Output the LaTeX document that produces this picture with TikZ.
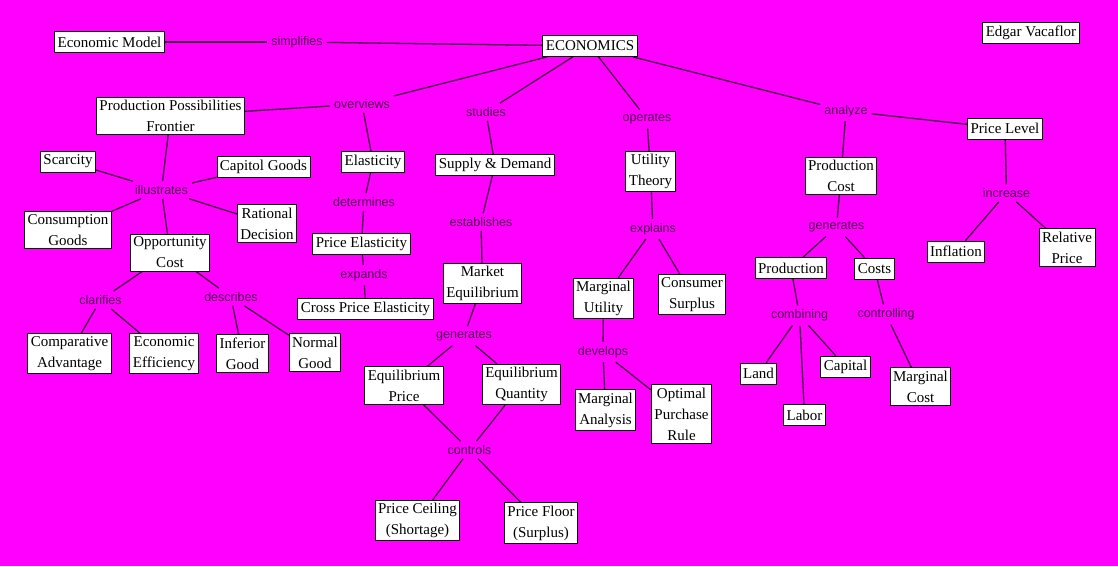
\documentclass[tikz,border=0pt]{standalone}
\usepackage{fontspec}
\setmainfont{Liberation Serif}
\newfontfamily\labfont{Liberation Sans}
\definecolor{bg}{RGB}{255,0,255}
\definecolor{edgecol}{RGB}{70,0,70}
\definecolor{labcol}{RGB}{80,0,80}
\tikzset{
 box/.style={draw=black, fill=white, line width=0.9pt, font=\fontsize{15}{21}\selectfont, align=center, inner xsep=3pt, inner ysep=3pt, minimum height=21pt},
 lab/.style={font=\labfont\fontsize{12.5}{14}\selectfont, text=labcol, inner sep=4pt},
 conn/.style={draw=edgecol, line width=1.3pt}
}
\begin{document}
\begin{tikzpicture}[x=1pt,y=-1pt]
\fill[bg] (0,0) rectangle (1118,566);
\useasboundingbox (0,0) rectangle (1118,566);
\node[box] (econ) at (590,46) {ECONOMICS};
\node[box] (model) at (109.5,42) {Economic Model};
\node[lab] (simp) at (297,42) {simplifies};
\node[box] (edgar) at (1031,33) {Edgar Vacaflor};
\node[box] (ppf) at (170.5,116) {Production Possibilities\\Frontier};
\node[lab] (over) at (362,104) {overviews};
\node[box] (elas) at (373,162) {Elasticity};
\node[lab] (stud) at (486,112) {studies};
\node[box] (sd) at (495,165) {Supply \& Demand};
\node[lab] (oper) at (647,119) {operates};
\node[box] (util) at (650.5,171.5) {Utility\\Theory};
\node[lab] (anal) at (846,111) {analyze};
\node[box] (plevel) at (1005,128.5) {Price Level};
\node[box] (pcost) at (841,176) {Production\\Cost};
\node[lab] (incr) at (1006.5,193) {increase};
\node[box] (scar) at (68,161.5) {Scarcity};
\node[box] (capg) at (263.5,166.5) {Capitol Goods};
\node[lab] (illu) at (161.5,190) {illustrates};
\node[box] (cons) at (68,230) {Consumption\\Goods};
\node[box] (opp) at (170,252.5) {Opportunity\\Cost};
\node[box] (rat) at (267,223.5) {Rational\\Decision};
\node[lab] (clar) at (100.5,300) {clarifies};
\node[lab] (desc) at (231,297) {describes};
\node[box] (comp) at (69.5,353.5) {Comparative\\Advantage};
\node[box] (eff) at (164,353.5) {Economic\\Efficiency};
\node[box] (inf) at (242.5,353.5) {Inferior\\Good};
\node[box] (norm) at (315,352.5) {Normal\\Good};
\node[lab] (det) at (364,202) {determines};
\node[box] (pel) at (361.5,243.5) {Price Elasticity};
\node[lab] (expa) at (364,275) {expands};
\node[box] (cpe) at (365.5,308.5) {Cross Price Elasticity};
\node[lab] (est) at (481,222) {establishes};
\node[box] (meq) at (482.5,283.5) {Market\\Equilibrium};
\node[lab] (gen1) at (464,336) {generates};
\node[lab] (expl) at (653,229) {explains};
\node[box] (mu) at (603.5,298.5) {Marginal\\Utility};
\node[box] (csur) at (692,294.5) {Consumer\\Surplus};
\node[lab] (dev) at (603,352) {develops};
\node[box] (ep) at (404,385.5) {Equilibrium\\Price};
\node[box] (eq) at (521.5,384.5) {Equilibrium\\Quantity};
\node[lab] (ctrl) at (469.5,450) {controls};
\node[box] (pc) at (417.5,520.5) {Price Ceiling\\(Shortage)};
\node[box] (pf) at (541,523) {Price Floor\\(Surplus)};
\node[box] (ma) at (605.5,410) {Marginal\\Analysis};
\node[box] (opr) at (681.5,414) {Optimal\\Purchase\\Rule};
\node[lab] (gen2) at (836.5,227) {generates};
\node[box] (prod) at (791,268) {Production};
\node[box] (costs) at (874.5,268.5) {Costs};
\node[box] (infl) at (956,251.5) {Inflation};
\node[box] (rel) at (1067,247.5) {Relative\\Price};
\node[lab] (comb) at (799.5,315.5) {combining};
\node[lab] (ctrl2) at (886,314.5) {controlling};
\node[box] (land) at (758.5,373.5) {Land};
\node[box] (capi) at (845.5,366.5) {Capital};
\node[box] (labor) at (804.5,415) {Labor};
\node[box] (mc) at (920.5,386.5) {Marginal\\Cost};
% connectors
\draw[conn] (model) -- (simp); \draw[conn] (simp) -- (econ);
\draw[conn] (econ) -- (over); \draw[conn] (over) -- (ppf); \draw[conn] (over) -- (elas);
\draw[conn] (econ) -- (stud); \draw[conn] (stud) -- (sd);
\draw[conn] (econ) -- (oper); \draw[conn] (oper) -- (util);
\draw[conn] (econ) -- (anal); \draw[conn] (anal) -- (pcost); \draw[conn] (anal) -- (plevel);
\draw[conn] (ppf) -- (illu);
\draw[conn] (illu) -- (scar); \draw[conn] (illu) -- (capg); \draw[conn] (illu) -- (cons);
\draw[conn] (illu) -- (opp); \draw[conn] (illu) -- (rat);
\draw[conn] (opp) -- (clar); \draw[conn] (clar) -- (comp); \draw[conn] (clar) -- (eff);
\draw[conn] (opp) -- (desc); \draw[conn] (desc) -- (inf); \draw[conn] (desc) -- (norm);
\draw[conn] (elas) -- (det); \draw[conn] (det) -- (pel);
\draw[conn] (pel) -- (expa); \draw[conn] (expa) -- (cpe);
\draw[conn] (sd) -- (est); \draw[conn] (est) -- (meq);
\draw[conn] (meq) -- (gen1); \draw[conn] (gen1) -- (ep); \draw[conn] (gen1) -- (eq);
\draw[conn] (ep) -- (ctrl); \draw[conn] (eq) -- (ctrl);
\draw[conn] (ctrl) -- (pc); \draw[conn] (ctrl) -- (pf);
\draw[conn] (util) -- (expl); \draw[conn] (expl) -- (mu); \draw[conn] (expl) -- (csur);
\draw[conn] (mu) -- (dev); \draw[conn] (dev) -- (ma); \draw[conn] (dev) -- (opr);
\draw[conn] (pcost) -- (gen2); \draw[conn] (gen2) -- (prod); \draw[conn] (gen2) -- (costs);
\draw[conn] (prod) -- (comb); \draw[conn] (comb) -- (land); \draw[conn] (comb) -- (labor); \draw[conn] (comb) -- (capi);
\draw[conn] (costs) -- (ctrl2); \draw[conn] (ctrl2) -- (mc);
\draw[conn] (plevel) -- (incr); \draw[conn] (incr) -- (infl); \draw[conn] (incr) -- (rel);
\end{tikzpicture}
\end{document}
